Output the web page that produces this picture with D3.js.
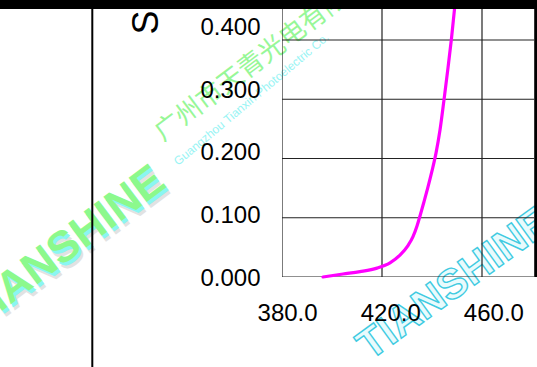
<!DOCTYPE html>
<html>
<head>
<meta charset="utf-8">
<script src="https://cdn.jsdelivr.net/npm/d3@7"></script>
<style>
  html, body { margin: 0; padding: 0; background: #fff; }
  svg { display: block; }
</style>
</head>
<body>
<svg id="chart" width="537" height="367"></svg>
<script>
// Spectral response curve (wavelength in nm, relative response)
const wavelengths = [396.4, 404.4, 411.2, 418.0, 423.2, 427.2, 430.4, 432.4, 434.0, 435.2,
                     436.8, 438.4, 440.0, 441.6, 443.2, 444.8, 446.4, 447.8, 449.0, 449.8];
const response    = [0.000, 0.005, 0.009, 0.015, 0.024, 0.037, 0.053, 0.068, 0.086, 0.103,
                     0.127, 0.152, 0.179, 0.209, 0.248, 0.299, 0.353, 0.403, 0.452, 0.484];
const xTicks = [380, 420, 460];
const yTicks = [0, 0.1, 0.2, 0.3, 0.4];
const axisTitle = "S";

const W = 537, H = 367;
const svg = d3.select("#chart");
const font = "'Liberation Sans', Arial, sans-serif";

// plot frame
const plot = { left: 282, right: 534, bottom: 277, top: 0 };

const x = d3.scaleLinear().domain([380, 500]).range([282, 582]);
const y = d3.scaleLinear().domain([0, 0.4]).range([277, 40]);

// label placement scales (labels sit slightly off the grid lines)
const xLab = d3.scaleLinear().domain([380, 460]).range([287.1, 493.4]);
const yLab = d3.scaleLinear().domain([0, 0.4]).range([285.5, 34.2]);

const defs = svg.append("defs");
defs.append("clipPath").attr("id", "plotClip")
  .append("rect")
  .attr("x", plot.left).attr("y", plot.top)
  .attr("width", plot.right - plot.left).attr("height", plot.bottom - plot.top);

// --- watermark layer ---
const wm = svg.append("g").attr("class", "watermark");

function wmText(tx, ty, angle, text, size, fill, opts = {}) {
  const t = wm.append("text")
    .attr("transform", `translate(${tx},${ty}) rotate(${angle})`)
    .attr("font-family", opts.family || font)
    .attr("font-size", size)
    .attr("font-weight", opts.weight || "normal")
    .attr("text-anchor", opts.anchor || "start")
    .attr("fill", fill)
    .text(text);
  if (opts.stroke) t.attr("stroke", opts.stroke).attr("stroke-width", opts.strokeWidth || 1);
  if (opts.opacity != null) t.attr("opacity", opts.opacity);
  return t;
}

// brand name, lower left
wmText(172, 192, -37, "TIANSHINE", 44, "#e2e2e2", { weight: "bold", anchor: "end" });
wmText(170, 189, -37, "TIANSHINE", 44, "#8af6f2", { weight: "bold", anchor: "end" });
wmText(168, 186, -37, "TIANSHINE", 44, "#8cf98c", { weight: "bold", anchor: "end" });

// company name
wmText(163, 142, -37, "广州市天青光电有限公司", 26, "#86f686",
  { family: "'Noto Sans CJK SC', sans-serif", opacity: 0.85 });
wmText(178, 166, -40, "Guangzhou Tianxin Photoelectric Co.", 12, "#8ef4f4", { opacity: 0.9 });

// outlined brand name, lower right
wmText(370, 361, -36, "TIANSHINE", 42, "#e6fbfd",
  { weight: "bold", stroke: "#2cc6de", strokeWidth: 1.4, opacity: 0.9 });

// --- grid ---
const grid = svg.append("g").attr("clip-path", "url(#plotClip)");
grid.selectAll("line.h").data(yTicks).join("line")
  .attr("class", "h")
  .attr("x1", plot.left).attr("x2", plot.right)
  .attr("y1", d => y(d)).attr("y2", d => y(d))
  .attr("stroke", "#222").attr("stroke-width", 1.2);
grid.selectAll("line.v").data(xTicks).join("line")
  .attr("class", "v")
  .attr("x1", d => x(d)).attr("x2", d => x(d))
  .attr("y1", plot.top).attr("y2", plot.bottom)
  .attr("stroke", "#222").attr("stroke-width", 1.2);

// --- curve ---
const pts = wavelengths.map((w, i) => [w, response[i]]);
const line = d3.line()
  .x(d => x(d[0])).y(d => y(d[1]))
  .curve(d3.curveMonotoneX);
svg.append("path")
  .datum(pts)
  .attr("d", line)
  .attr("fill", "none")
  .attr("stroke", "#ff00ff")
  .attr("stroke-width", 3.2)
  .attr("stroke-linecap", "round")
  .attr("stroke-linejoin", "round");

// right frame edge
svg.append("line")
  .attr("x1", 535.7).attr("x2", 535.7)
  .attr("y1", 0).attr("y2", plot.bottom)
  .attr("stroke", "#000").attr("stroke-width", 3);

// --- axes ---
const yAxis = svg.append("g")
  .attr("transform", "translate(260.5,0)")
  .call(d3.axisLeft(yLab).tickValues(yTicks).tickFormat(d3.format(".3f")).tickSize(0).tickPadding(0));
yAxis.select(".domain").remove();
yAxis.selectAll("text")
  .attr("dy", 0)
  .attr("font-family", font).attr("font-size", 24).attr("fill", "#000");

const xAxis = svg.append("g")
  .attr("transform", "translate(0,321)")
  .call(d3.axisBottom(xLab).tickValues(xTicks).tickFormat(d3.format(".1f")).tickSize(0).tickPadding(0));
xAxis.select(".domain").remove();
xAxis.selectAll("text")
  .attr("dy", 0).attr("y", 0)
  .attr("font-family", font).attr("font-size", 24).attr("fill", "#000");

// axis title (rotated)
svg.append("text")
  .attr("transform", "translate(158,22.5) rotate(-90)")
  .attr("text-anchor", "middle")
  .attr("font-family", font).attr("font-size", 36)
  .attr("fill", "#000")
  .text(axisTitle);

// left rule
svg.append("line")
  .attr("x1", 92.3).attr("x2", 92.3)
  .attr("y1", 0).attr("y2", H)
  .attr("stroke", "#000").attr("stroke-width", 2);

// top bar
svg.append("rect")
  .attr("x", 0).attr("y", 0).attr("width", W).attr("height", 9)
  .attr("fill", "#000");
</script>
</body>
</html>
